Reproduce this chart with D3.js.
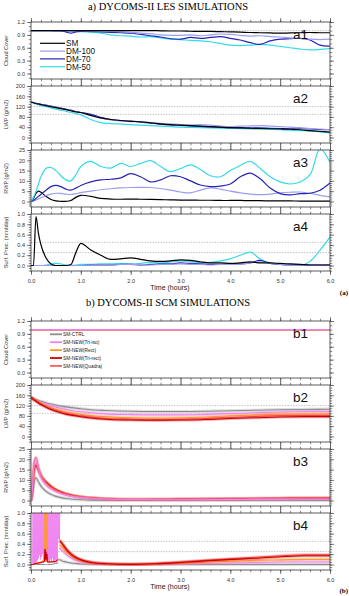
<!DOCTYPE html>
<html>
<head>
<meta charset="utf-8">
<script src="https://cdn.jsdelivr.net/npm/d3@7"></script>
<style>
body { margin: 0; background: #fff; }
</style>
</head>
<body>
<div id="chart"></div>
<script>
// ---- LES data (a panels) ----
var hoursLes = [0, 0.05, 0.1, 0.15, 0.2, 0.3, 0.4, 0.5, 0.6, 0.7, 0.8, 0.9, 1.0,
  1.2, 1.4, 1.6, 1.8, 2.0, 2.2, 2.4, 2.6, 2.8, 3.0, 3.2, 3.4, 3.6, 3.8, 4.0,
  4.2, 4.4, 4.6, 4.8, 5.0, 5.2, 5.4, 5.6, 5.8, 6.0];
var lesNames = ["SM", "DM-100", "DM-70", "DM-50"];
var lesColors = ["#000000", "#9c9cf0", "#2424b4", "#33dbe8"];

var cloudSm = [1,1,1,1,1,1,1,1,1,1,1,1,1, 1,1,1,1,1,1,1, 0.995,0.99,0.99,0.985,0.98,0.98,0.975,0.97,0.965,0.955,0.95,0.945,0.94,0.945,0.95,0.955,0.95,0.95];
var cloudDm100 = [1,1,1,1,1,1,1,1,1,1,1,1,1, 0.99,0.985,0.98,0.975,0.96,0.94,0.93,0.9,0.89,0.89,0.9,0.88,0.9,0.92,0.91,0.89,0.87,0.88,0.86,0.85,0.83,0.82,0.8,0.79,0.8];
var cloudDm70 = [1,1,1,1,1,1,1,0.99,0.99,0.97,0.94,0.97,0.98, 0.98,0.97,0.96,0.95,0.94,0.91,0.88,0.85,0.81,0.8,0.84,0.82,0.84,0.86,0.82,0.78,0.72,0.68,0.76,0.8,0.81,0.82,0.78,0.66,0.64];
var cloudDm50 = [1,1,1,1,1,1,1,1,0.995,0.99,0.985,0.98,0.975, 0.96,0.94,0.9,0.88,0.87,0.85,0.86,0.83,0.8,0.79,0.77,0.76,0.74,0.7,0.66,0.65,0.66,0.68,0.66,0.63,0.6,0.57,0.55,0.56,0.58];

var lwpSm = [138,135,132,130,128,124,120,116,112,108,104,100,97, 86,76,70,66,63,61,57,53,50,48,46,44,42,40,38,37,36,35,34,33,32,30,27,24,21];
var lwpDm100 = [138,135,132,130,128,125,121,117,113,109,104,100,96, 85,75,68,64,62,60,57,55,53,50,49,50,48,44,42,44,45,46,44,42,40,38,35,33,30];
var lwpDm70 = [138,135,133,131,129,126,122,118,114,110,106,100,97, 90,78,70,66,64,60,56,52,49,47,45,43,41,40,38,38,37,37,36,35,34,34,33,31,30];
var lwpDm50 = [138,134,130,127,124,120,115,110,106,102,98,93,88, 70,58,54,52,50,48,46,44,42,40,39,38,37,36,35,34,33,32,31,30,29,27,25,22,18];

var rwpSm = [0,1.5,4,5,4.5,2.5,1,0.3,0.1,0.1,0.5,2,3, 2.5,1.5,1.2,1.1,1.2,1.1,1,0.9,0.8,0.7,0.7,0.6,0.6,0.5,0.5,0.5,0.4,0.4,0.3,0.3,0.3,0.2,0.2,0.2,0.2];
var rwpDm100 = [0,0.3,0.8,1.3,1.8,2.8,3.6,4,3.9,3.6,3.4,3.8,4.3, 5,5.7,6.2,6.6,6.8,6.9,6.8,6.3,5.5,4.6,4.2,5.5,6.6,6,5,4.2,3.6,3.3,3.6,4.2,4.5,4.6,4,3,2.2];
var rwpDm70 = [0,0.5,1.5,2.5,3.5,5.5,7.2,7.8,7.2,6,5.5,6.5,7.8, 9.5,10.5,10.8,11.5,13.5,12,9.5,10.5,12.5,12,10,8,7.2,7.5,8.5,12,13.8,11,6.5,3.8,3.2,3.8,4,5.5,9];
var rwpDm50 = [0,2,5,8.5,12,16,16.5,15,12.5,10.5,10,13,17, 19.5,17,16.2,18.5,17,18.5,19.8,17,14.5,16,17.8,15.5,12.5,12,15,17.5,19.5,16,12,9.5,8.5,9.5,13,25.5,19];

var precSm = [0,0,0.95,0.62,0.4,0.15,0.03,0,0,0,0.02,0.25,0.43, 0.3,0.2,0.12,0.13,0.15,0.12,0.09,0.08,0.09,0.11,0.1,0.07,0.05,0.05,0.04,0.05,0.07,0.05,0.05,0.04,0.03,0.02,0.01,0.01,0.01];
var precDm100 = [0,0,0,0,0,0,0,0,0,0,0,0,0, 0.01,0.01,0.01,0.02,0.02,0.02,0.01,0.02,0.02,0.03,0.02,0.02,0.01,0.02,0.02,0.03,0.05,0.07,0.04,0.02,0.01,0.01,0.01,0.01,0.01];
var precDm70 = [0,0,0,0,0,0,0,0,0,0,0,0,0, 0.01,0.01,0.01,0.02,0.02,0.01,0.02,0.03,0.03,0.05,0.04,0.03,0.02,0.02,0.03,0.03,0.05,0.1,0.04,0.02,0.01,0.01,0.01,0.01,0.01];
var precDm50 = [0,0,0,0,0,0.01,0.03,0.04,0.03,0.01,0,0.01,0.02, 0.02,0.03,0.03,0.04,0.03,0.04,0.06,0.05,0.07,0.09,0.08,0.05,0.06,0.09,0.13,0.2,0.26,0.12,0.05,0.03,0.02,0.01,0.08,0.3,0.55];

// ---- SCM data (b panels) ----
var scmNames = ["SM-CTRL", "SM-NEW(Tri-iso)", "SM-NEW(Rect)", "SM-NEW(Tri-rect)", "SM-NEW(Quadra)"];
var scmColors = ["#8c8c8c", "#ee82ee", "#ff9a30", "#cc0000", "#ff5c5c"];

var hoursB1 = [0, 6];
var cloudScm = [1, 1];

var hoursScm = [0, 0.03, 0.06, 0.1, 0.15, 0.2, 0.3, 0.4, 0.5, 0.6, 0.7, 0.8, 1.0,
  1.2, 1.5, 2.0, 2.5, 3.0, 3.5, 4.0, 4.5, 5.0, 5.5, 6.0];

var lwpCtrl = [152,150,147,144,140,137,131,126,122,118,115,112,108, 104,101,98,97,97,98,100,102,104,105,106];
var lwpTriIso = [152,149,145,141,136,132,125,119,114,109,105,101,96, 92,88,85,84,84,86,89,92,95,97,97];
var lwpRect = [152,148,144,139,133,128,120,112,106,101,96,92,86, 81,77,73,72,73,76,80,84,87,88,88];
var lwpTriRect = [152,147,142,137,130,124,114,105,98,92,87,83,77, 72,67,64,63,64,66,70,73,76,77,77];
var lwpQuadra = [152,147,143,138,131,125,116,108,101,95,90,86,80, 75,70,67,66,67,70,74,78,81,82,82];

var rwpCtrl = [0,3,9,11,9,7,4.5,3,2,1.4,1,0.7,0.4, 0.2,0.1,0.05,0.05,0.05,0.05,0.05,0.05,0.05,0.05,0.05];
var rwpTriIso = [0,6,17,20,15,11,7.5,5.5,4.2,3.3,2.6,2.1,1.5, 1.1,0.7,0.4,0.35,0.35,0.4,0.45,0.5,0.55,0.6,0.6];
var rwpRect = [0,5,15,18,15,12,9,7,5.5,4.3,3.4,2.7,1.8, 1.3,0.8,0.5,0.5,0.55,0.6,0.7,0.8,0.9,1.0,1.0];
var rwpTriRect = [0,5,14,17,14.5,12,9,6.8,5.2,4.1,3.3,2.6,1.8, 1.3,0.8,0.5,0.55,0.65,0.75,0.9,1.0,1.1,1.2,1.2];
var rwpQuadra = [0,6,18,21,16,12.5,8.5,6.3,4.8,3.8,3.0,2.4,1.7, 1.2,0.8,0.5,0.5,0.6,0.7,0.8,0.9,1.0,1.1,1.1];

// early noisy precipitation burst of Tri-iso
var burstHours = [0, 0.03,0.04,0.05,0.06,0.07,0.08,0.09,0.10,0.11,0.12,0.13,0.14,0.15,0.16,0.17,0.18,0.19,0.20,
  0.21,0.22,0.23,0.24,0.25,0.26,0.27,0.28,0.29,0.30,0.31,0.32,0.33,0.34,0.35,0.36,0.37,0.38,0.39,0.40,
  0.41,0.42,0.43,0.44,0.45,0.46,0.47,0.48,0.49,0.50,0.51,0.52,0.53,0.54,0.55,0.56,0.57,0.58];
var burstTriIso = [0, 0,1.3,0.02,1.3,0.01,1.3,0.03,1.3,0.05,1.3,0.08,1.3,0.12,1.3,0.18,1.3,0.1,1.3,
  0.15,1.3,0.2,1.3,0.06,1.3,0.12,1.3,0.05,1.3,0.1,1.3,0.15,1.3,0.08,1.3,0.04,1.3,0.1,1.3,
  0.06,1.3,0.12,1.3,0.05,1.3,0.03,1.3,0.08,1.3,0.04,1.3,0.1,1.3,0.5,1.3,0.42,1.3];
var spikeHours = [0, 0.03, 0.1, 0.2, 0.27, 0.28, 0.29, 0.3, 0.31, 0.32, 0.33, 0.4, 0.5, 0.55];
var spikeCtrl = [0,0,0,0,0,0,0,0,0,0,0,0,0.02,0.03];
var spikeRect = [0,0,0.03,0.05,0.1,1.3,0.2,1.3,0.3,1.3,0.1,0.05,0.06,0.08];
var spikeTriRect = [0,0,0.02,0.04,0.06,0.3,0.1,0.25,0.1,0.2,0.05,0.05,0.06,0.1];
var spikeQuadra = [0,0,0.02,0.03,0.05,0.2,0.08,0.2,0.06,0.15,0.04,0.05,0.06,0.1];

var hoursTail = [0.57, 0.6, 0.7, 0.8, 0.9, 1.0, 1.2, 1.5, 2.0, 2.5, 3.0, 3.5, 4.0, 4.5, 5.0, 5.5, 6.0];
var tailCtrl = [0.1,0.08,0.05,0.03,0.02,0.01,0.005,0,0,0,0,0,0,0,0,0,0];
var tailTriIso = [0.33,0.3,0.2,0.13,0.08,0.05,0.02,0.008,0.001,0.005,0.01,0.02,0.03,0.04,0.05,0.05,0.05];
var tailRect = [0.38,0.36,0.25,0.17,0.11,0.07,0.03,0.01,0.002,0.01,0.025,0.045,0.06,0.08,0.09,0.1,0.1];
var tailTriRect = [0.45,0.43,0.3,0.2,0.13,0.09,0.04,0.015,0.003,0.015,0.04,0.07,0.1,0.12,0.15,0.17,0.17];
var tailQuadra = [0.47,0.45,0.32,0.22,0.15,0.1,0.05,0.02,0.005,0.02,0.05,0.08,0.11,0.14,0.17,0.19,0.19];

var hourTicks = [0, 1, 2, 3, 4, 5, 6];

// ---- layout ----
var W = 349, H = 596, X0 = 31, X1 = 330, PH = 57;
var SANS = "Liberation Sans, Arial, sans-serif",
    SERIF = "Liberation Serif, Times New Roman, serif";

var svg = d3.select("#chart").append("svg")
  .attr("width", W).attr("height", H)
  .attr("font-family", SANS);

var x = d3.scaleLinear().domain([0, 6]).range([X0, X1]);

function pairs(h, v) { return d3.zip(h, v); }

function drawPanel(cfg) {
  var top = cfg.top, hi = cfg.max;
  var y = d3.scaleLinear().domain([-hi * 5.5 / 51.5, hi]).range([top + PH, top]);
  var g = svg.append("g");

  svg.append("clipPath").attr("id", "clip-" + cfg.label)
    .append("rect").attr("x", X0).attr("y", top).attr("width", X1 - X0).attr("height", PH);

  cfg.refs.forEach(function(r) {
    g.append("line")
      .attr("x1", X0).attr("x2", X1).attr("y1", y(r)).attr("y2", y(r))
      .attr("stroke", "#9a9a9a").attr("stroke-width", 0.6)
      .attr("stroke-dasharray", "1.5,1.2");
  });

  var plot = g.append("g").attr("clip-path", "url(#clip-" + cfg.label + ")");
  cfg.series.forEach(function(s) {
    var line = d3.line()
      .x(function(d) { return x(d[0]); })
      .y(function(d) { return y(d[1]); })
      .curve(s.curve || cfg.curve);
    if (s.halo) {
      plot.append("path").datum(s.data)
        .attr("fill", "none").attr("stroke", s.color)
        .attr("stroke-opacity", 0.3).attr("stroke-width", 3.2)
        .attr("d", line);
    }
    plot.append("path").datum(s.data)
      .attr("fill", "none").attr("stroke", s.color)
      .attr("stroke-width", s.width || 1.2)
      .attr("stroke-linejoin", "round")
      .attr("d", line);
  });

  g.append("rect")
    .attr("x", X0).attr("y", top).attr("width", X1 - X0).attr("height", PH)
    .attr("fill", "none").attr("stroke", "#333").attr("stroke-width", 0.8);

  // y axes (left with labels, right mirror), outward ticks
  var minors = d3.range(0, hi + 1e-9, cfg.minor).concat(d3.range(-cfg.minor, y.domain()[0] - 1e-9, -cfg.minor));
  g.append("g").attr("transform", "translate(" + X0 + ",0)")
    .call(d3.axisLeft(y).tickValues(cfg.majors).tickSize(4).tickPadding(2).tickFormat(cfg.fmt));
  g.append("g").attr("transform", "translate(" + X0 + ",0)")
    .call(d3.axisLeft(y).tickValues(minors).tickSize(2.2).tickFormat(""));
  g.append("g").attr("transform", "translate(" + X1 + ",0)")
    .call(d3.axisRight(y).tickValues(cfg.majors).tickSize(4).tickFormat(""));
  g.append("g").attr("transform", "translate(" + X1 + ",0)")
    .call(d3.axisRight(y).tickValues(minors).tickSize(2.2).tickFormat(""));

  var xMinor = d3.range(0, 6.001, 0.2);
  g.append("g").attr("transform", "translate(0," + (top + PH) + ")")
    .call(d3.axisBottom(x).tickValues(hourTicks).tickSize(4).tickPadding(4)
      .tickFormat(cfg.xlabels ? d3.format(".1f") : ""));
  g.append("g").attr("transform", "translate(0," + (top + PH) + ")")
    .call(d3.axisBottom(x).tickValues(xMinor).tickSize(2.2).tickFormat(""));
  g.append("g").attr("transform", "translate(0," + top + ")")
    .call(d3.axisTop(x).tickValues(hourTicks).tickSize(4).tickFormat(""));
  g.append("g").attr("transform", "translate(0," + top + ")")
    .call(d3.axisTop(x).tickValues(xMinor).tickSize(2.2).tickFormat(""));

  g.selectAll(".domain").remove();
  g.selectAll(".tick line").attr("stroke", "#333").attr("stroke-width", 0.6);
  g.selectAll(".tick text").attr("font-size", 5.5).attr("fill", "#333")
    .attr("font-family", SANS);

  g.append("text")
    .attr("transform", "translate(8," + (top + PH / 2) + ") rotate(-90)")
    .attr("text-anchor", "middle").attr("font-size", 5.6).attr("fill", "#333")
    .text(cfg.ytitle);

  g.append("text").attr("x", 293).attr("y", top + 17)
    .attr("font-size", 13.5).attr("fill", "#111").text(cfg.label);

  if (cfg.xlabels) {
    g.append("text").attr("x", 170).attr("y", top + PH + 19)
      .attr("text-anchor", "middle").attr("font-size", 7).attr("fill", "#222")
      .text("Time (hours)");
  }
  return y;
}

function lesSeries(vals) {
  return vals.map(function(v, i) {
    return { color: lesColors[i], data: pairs(hoursLes, v), width: 1.2 };
  });
}

// ---- a) LES ----
svg.append("text").attr("x", 168).attr("y", 10).attr("text-anchor", "middle")
  .attr("font-family", SERIF).attr("font-size", 10.5)
  .text("a) DYCOMS-II LES SIMULATIONS");

var aTops = [22, 86, 150, 214];
drawPanel({ label: "a1", top: aTops[0], max: 1.2, majors: [0, 0.3, 0.6, 0.9, 1.2], minor: 0.1,
  fmt: d3.format(".1f"), refs: [1.0], ytitle: "Cloud Cover", curve: d3.curveCatmullRom,
  series: lesSeries([cloudSm, cloudDm100, cloudDm70, cloudDm50]).reverse() });
drawPanel({ label: "a2", top: aTops[1], max: 200, majors: [0, 40, 80, 120, 160, 200], minor: 10,
  fmt: d3.format("d"), refs: [120, 90], ytitle: "LWP (g/m2)", curve: d3.curveCatmullRom,
  series: lesSeries([lwpSm, lwpDm100, lwpDm70, lwpDm50]).reverse() });
drawPanel({ label: "a3", top: aTops[2], max: 25, majors: [0, 5, 10, 15, 20, 25], minor: 1,
  fmt: d3.format("d"), refs: [], ytitle: "RWP (g/m2)", curve: d3.curveCatmullRom,
  series: lesSeries([rwpSm, rwpDm100, rwpDm70, rwpDm50]) });
drawPanel({ label: "a4", top: aTops[3], max: 1.0, majors: [0, 0.2, 0.4, 0.6, 0.8, 1.0], minor: 0.05,
  fmt: d3.format(".1f"), refs: [0.45, 0.25], ytitle: "Surf. Prec. (mm/day)", curve: d3.curveMonotoneX,
  xlabels: true,
  series: lesSeries([precSm, precDm100, precDm70, precDm50]).reverse() });

// legend a
lesNames.forEach(function(n, i) {
  var ly = 43.3 + i * 7.8;
  svg.append("line").attr("x1", 40).attr("x2", 65).attr("y1", ly).attr("y2", ly)
    .attr("stroke", lesColors[i]).attr("stroke-width", 1.2);
  svg.append("text").attr("x", 66).attr("y", ly + 2.9).attr("font-size", 8.2)
    .attr("fill", "#111").text(n);
});

svg.append("text").attr("x", 348).attr("y", 295).attr("text-anchor", "end")
  .attr("font-family", SERIF).attr("font-weight", "bold")
  .attr("font-size", 7).text("(a)");

// ---- b) SCM ----
svg.append("text").attr("x", 168).attr("y", 306).attr("text-anchor", "middle")
  .attr("font-family", SERIF).attr("font-size", 10.5)
  .text("b) DYCOMS-II SCM SIMULATIONS");

function scmSeries(h, vals, order, halo) {
  return order.map(function(i) {
    return { color: scmColors[i], data: pairs(h, vals[i]), halo: halo, width: 1.1 };
  });
}

var bTops = [321, 385, 449, 513];
drawPanel({ label: "b1", top: bTops[0], max: 1.2, majors: [0, 0.3, 0.6, 0.9, 1.2], minor: 0.1,
  fmt: d3.format(".1f"), refs: [1.0], ytitle: "Cloud Cover", curve: d3.curveLinear,
  series: scmSeries(hoursB1, [cloudScm, cloudScm, cloudScm, cloudScm, cloudScm], [0, 2, 3, 4, 1], false) });
drawPanel({ label: "b2", top: bTops[1], max: 200, majors: [0, 40, 80, 120, 160, 200], minor: 10,
  fmt: d3.format("d"), refs: [120, 90], ytitle: "LWP (g/m2)", curve: d3.curveMonotoneX,
  series: scmSeries(hoursScm, [lwpCtrl, lwpTriIso, lwpRect, lwpTriRect, lwpQuadra], [0, 1, 2, 4, 3], true) });
drawPanel({ label: "b3", top: bTops[2], max: 25, majors: [0, 5, 10, 15, 20, 25], minor: 1,
  fmt: d3.format("d"), refs: [], ytitle: "RWP (g/m2)", curve: d3.curveMonotoneX,
  series: scmSeries(hoursScm, [rwpCtrl, rwpTriIso, rwpRect, rwpTriRect, rwpQuadra], [0, 2, 3, 4, 1], true) });

// b4: decaying tails first, the Tri-iso burst over them, early spikes on top
var b4Series = [
  { color: scmColors[0], data: pairs(hoursTail, tailCtrl), halo: true, width: 1.1 },
  { color: scmColors[1], data: pairs(hoursTail, tailTriIso), halo: true, width: 1.1 },
  { color: scmColors[2], data: pairs(hoursTail, tailRect), halo: true, width: 1.1 },
  { color: scmColors[4], data: pairs(hoursTail, tailQuadra), halo: true, width: 1.1 },
  { color: scmColors[3], data: pairs(hoursTail, tailTriRect), halo: true, width: 1.1 },
  { color: scmColors[1], data: pairs(burstHours, burstTriIso), width: 0.9, curve: d3.curveLinear },
  { color: scmColors[0], data: pairs(spikeHours, spikeCtrl), width: 1.0, curve: d3.curveLinear },
  { color: scmColors[2], data: pairs(spikeHours, spikeRect), width: 1.0, curve: d3.curveLinear },
  { color: scmColors[4], data: pairs(spikeHours, spikeQuadra), width: 1.0, curve: d3.curveLinear },
  { color: scmColors[3], data: pairs(spikeHours, spikeTriRect), width: 1.0, curve: d3.curveLinear }
];
drawPanel({ label: "b4", top: bTops[3], max: 1.0, majors: [0, 0.2, 0.4, 0.6, 0.8, 1.0], minor: 0.05,
  fmt: d3.format(".1f"), refs: [0.45, 0.25], ytitle: "Surf. Prec. (mm/day)", curve: d3.curveMonotoneX,
  xlabels: true, series: b4Series });

// legend b
scmNames.forEach(function(n, i) {
  var ly = 334.3 + i * 7.9;
  svg.append("line").attr("x1", 50).attr("x2", 62).attr("y1", ly).attr("y2", ly)
    .attr("stroke", scmColors[i]).attr("stroke-width", 1.8);
  svg.append("text").attr("x", 63).attr("y", ly + 1.7).attr("font-size", 4.8)
    .attr("fill", "#222").text(n);
});

svg.append("text").attr("x", 348).attr("y", 593).attr("text-anchor", "end")
  .attr("font-family", SERIF).attr("font-weight", "bold")
  .attr("font-size", 7).text("(b)");
</script>
</body>
</html>
